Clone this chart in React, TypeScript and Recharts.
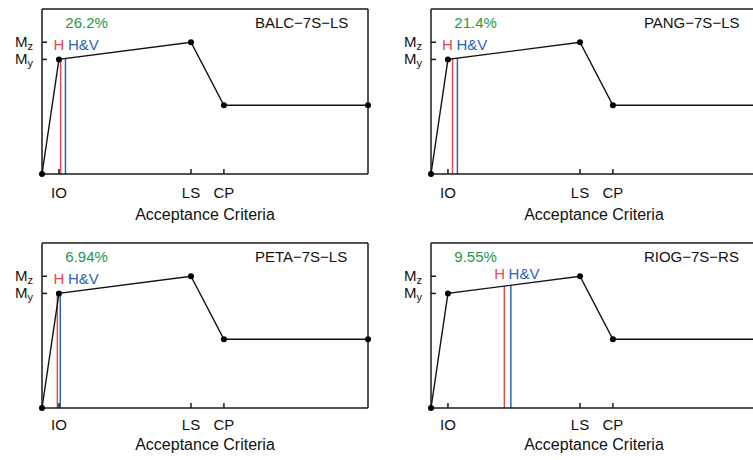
import React from "react";
import { ComposedChart, Line, XAxis, YAxis, ReferenceLine, ReferenceDot } from "recharts";

// capacity curve, same for every panel (x in arbitrary rotation units, y normalised to My)
const curveX = [0, 0.52, 4.57, 5.58, 10];
const curveY = [0, 1, 1.15, 0.6, 0.6];
const xTicks = [0.52, 4.57, 5.58];
const xTickNames = ["IO", "LS", "CP"];
const yTicks = [1, 1.15];
const yTickSubs = ["y", "z"];

// per panel
const panelNames = ["BALC\u22127S\u2212LS", "PANG\u22127S\u2212LS", "PETA\u22127S\u2212LS", "RIOG\u22127S\u2212RS"];
const panelPct = ["26.2%", "21.4%", "6.94%", "9.55%"];
const hX = [0.57, 0.66, 0.47, 2.25];
const hTop = [1.002, 1.005, 1.0, 1.064];
const hvX = [0.72, 0.81, 0.56, 2.45];
const hvTop = [1.007, 1.011, 1.002, 1.071];
const labelX = [0.356, 0.34, 0.356, 1.94];
const labelY = [1.078, 1.078, 1.078, 1.124];

const FONT = "'Liberation Sans', Arial, Helvetica, sans-serif";
const INK = "#111";
const BOX = { stroke: "#1a1a1a", strokeWidth: 1.5 };
const RED = "#e8474f";
const BLUE = "#2a63bd";
const GREEN = "#1e9a48";

const panelLeft = [0, 389, 0, 389];
const panelTop = [0, 0, 234, 234];

const XTick = (props: any) => {
  const { x, y, payload, labelOff } = props;
  const k = xTicks.indexOf(payload.value);
  return (
    <g>
      <line x1={x} y1={y} x2={x} y2={y - 5} {...BOX} />
      <text x={x} y={y + labelOff} textAnchor="middle" fill={INK} fontSize={15} fontFamily={FONT}>
        {xTickNames[k]}
      </text>
    </g>
  );
};

const YTick = (props: any) => {
  const { x, y, payload } = props;
  const k = yTicks.indexOf(payload.value);
  return (
    <g>
      <line x1={x} y1={y} x2={x + 5} y2={y} {...BOX} />
      <text x={x - 9} y={y + 4.5} textAnchor="end" fill={INK} fontSize={15} fontFamily={FONT}>
        M
        <tspan fontSize={11} dy={3.5}>{yTickSubs[k]}</tspan>
      </text>
    </g>
  );
};

const Panel = ({ i }: { i: number }) => {
  const data = curveX.map((x, k) => ({ x, m: curveY[k] }));
  const row = i < 2 ? 0 : 1;
  const tickOff = row === 0 ? 24 : 22;
  const titleOff = row === 0 ? 10 : 14.5;
  return (
    <div style={{ position: "absolute", left: panelLeft[i], top: panelTop[i] }}>
      <ComposedChart width={380} height={230} data={data} margin={{ top: 9, right: 12, bottom: 0, left: 0 }}>
        <XAxis
          dataKey="x"
          type="number"
          domain={[0, 10]}
          ticks={xTicks}
          interval={0}
          tickSize={0}
          tickMargin={0}
          height={56}
          axisLine={BOX}
          tickLine={false}
          tick={<XTick labelOff={tickOff} />}
          label={{ value: "Acceptance Criteria", position: "insideBottom", offset: titleOff, fill: INK, fontSize: 16, fontFamily: FONT }}
        />
        <XAxis
          xAxisId="top"
          orientation="top"
          mirror
          type="number"
          domain={[0, 10]}
          ticks={xTicks}
          interval={0}
          tick={false}
          tickSize={5}
          tickLine={BOX}
          axisLine={BOX}
        />
        <YAxis
          type="number"
          domain={[0, 1.44]}
          ticks={yTicks}
          interval={0}
          width={42}
          tickSize={0}
          tickMargin={0}
          axisLine={BOX}
          tickLine={false}
          tick={<YTick />}
        />
        <YAxis
          yAxisId="right"
          orientation="right"
          mirror
          type="number"
          domain={[0, 1.44]}
          ticks={yTicks}
          interval={0}
          tick={false}
          tickSize={5}
          tickLine={BOX}
          axisLine={BOX}
        />
        <ReferenceLine segment={[{ x: hX[i], y: 0 }, { x: hX[i], y: hTop[i] }]} stroke={RED} strokeWidth={1.5} />
        <ReferenceLine segment={[{ x: hvX[i], y: 0 }, { x: hvX[i], y: hvTop[i] }]} stroke={BLUE} strokeWidth={1.5} />
        <Line
          dataKey="m"
          type="linear"
          stroke="#111"
          strokeWidth={1.4}
          dot={{ r: 3, fill: "#000", stroke: "#000", strokeWidth: 0 }}
          isAnimationActive={false}
        />
        <ReferenceDot
          x={labelX[i]}
          y={labelY[i]}
          r={0}
          shape={(p: any) => (
            <text x={p.cx} y={p.cy} fontSize={15} fontFamily={FONT}>
              <tspan fill={RED}>H</tspan>
              <tspan fill={BLUE} dx={3.5}>H&amp;V</tspan>
            </text>
          )}
        />
        <ReferenceDot
          x={0.715}
          y={1.272}
          r={0}
          shape={(p: any) => (
            <text x={p.cx} y={p.cy} fill={GREEN} fontSize={15} fontFamily={FONT}>
              {panelPct[i]}
            </text>
          )}
        />
        <ReferenceDot
          x={6.53}
          y={1.272}
          r={0}
          shape={(p: any) => (
            <text x={p.cx} y={p.cy} fill={INK} fontSize={15} fontFamily={FONT}>
              {panelNames[i]}
            </text>
          )}
        />
      </ComposedChart>
    </div>
  );
};

export default function App() {
  return (
    <div style={{ position: "absolute", left: 0, top: 0, width: 753, height: 460, overflow: "hidden", background: "#fff" }}>
      {[0, 1, 2, 3].map((i) => (
        <Panel key={i} i={i} />
      ))}
    </div>
  );
}
